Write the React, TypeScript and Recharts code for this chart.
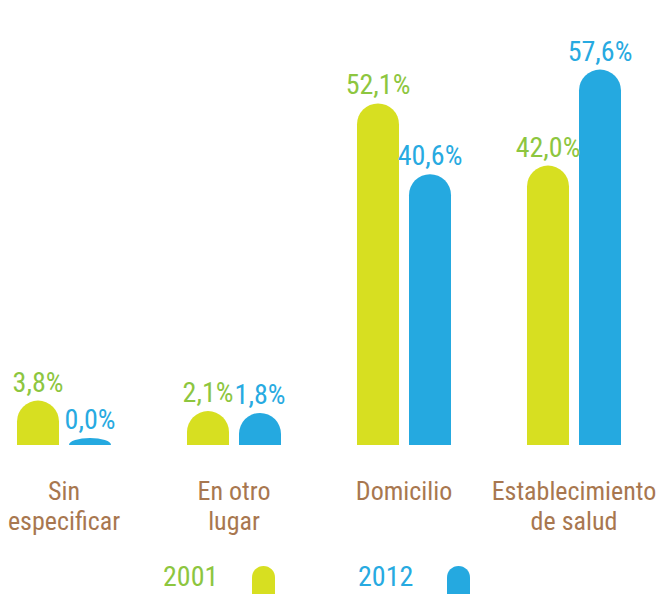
import React from 'react';
import { BarChart, Bar, XAxis, YAxis, LabelList, Legend } from 'recharts';

const categories = ['Sin\nespecificar', 'En otro\nlugar', 'Domicilio', 'Establecimiento\nde salud'];
const values2001 = [3.8, 2.1, 52.1, 42.0];
const values2012 = [0.0, 1.8, 40.6, 57.6];
const seriesNames = ['2001', '2012'];

const FONT = "'Liberation Sans Narrow', 'Roboto Condensed', 'DejaVu Sans Condensed', sans-serif";
const barColors = ['#d7df21', '#25a9e0'];
const labelColors = ['#8dc63f', '#27aae1'];
const brown = '#a8774f';

const data = categories.map((name, i) => ({
  name,
  y2001: values2001[i],
  y2012: values2012[i],
}));

// bar with a round cap sitting on top of the value
const DomeBar = (props: any) => {
  const { x, y, width, height, fill, value } = props;
  const r = width / 2;
  const ry = Number(value) === 0 ? 7 : r;
  const base = y + height;
  const d = `M${x},${base} L${x},${y} A${r},${ry} 0 0 1 ${x + width},${y} L${x + width},${base} Z`;
  return <path d={d} fill={fill} />;
};

const makeLabel = (color: string) => (props: any) => {
  const { x, y, width, value } = props;
  const r = width / 2;
  const capTop = Number(value) === 0 ? y - 7 : y - r;
  return (
    <text x={x + width / 2} y={capTop - 9} textAnchor="middle" fill={color} fontSize={28} fontFamily={FONT}>
      {Number(value).toFixed(1).replace('.', ',')}%
    </text>
  );
};

const CategoryTick = ({ x, y, payload }: any) => {
  const lines = String(payload.value).split('\n');
  return (
    <text x={x} y={y} textAnchor="middle" fill={brown} fontSize={26} fontFamily={FONT}>
      {lines.map((l, i) => (
        <tspan key={i} x={x} dy={i === 0 ? 55 : 30}>{l}</tspan>
      ))}
    </text>
  );
};

const LegendContent = () => (
  <div style={{ display: 'flex', alignItems: 'flex-start', paddingLeft: 184, height: 36, fontFamily: FONT }}>
    {seriesNames.map((s, i) => (
      <div key={s} style={{ display: 'flex', alignItems: 'flex-start', marginRight: 83 }}>
        <span style={{ color: labelColors[i], fontSize: 28, lineHeight: '30px', width: 52 }}>{s}</span>
        <span style={{ marginLeft: 37, marginTop: 4, width: 23, height: 30, background: barColors[i], borderRadius: '11.5px 11.5px 0 0' }} />
      </div>
    ))}
  </div>
);

export default function App() {
  return (
    <div style={{ position: 'absolute', left: -21, top: 0, width: 680, height: 594, overflow: 'hidden', background: '#fff' }}>
      <BarChart
        width={680}
        height={594}
        data={data}
        margin={{ top: 45, right: 0, left: 0, bottom: 0 }}
        barCategoryGap={38}
        barGap={10}
      >
        <XAxis dataKey="name" axisLine={false} tickLine={false} tickSize={0} tickMargin={0} interval={0} height={113} tick={<CategoryTick />} />
        <YAxis hide domain={[0, 65]} />
        <Legend verticalAlign="bottom" content={<LegendContent />} wrapperStyle={{ bottom: -4, left: 0, width: 680 }} />
        <Bar dataKey="y2001" name={seriesNames[0]} fill={barColors[0]} barSize={42} shape={<DomeBar />} isAnimationActive={false}>
          <LabelList dataKey="y2001" content={makeLabel(labelColors[0])} />
        </Bar>
        <Bar dataKey="y2012" name={seriesNames[1]} fill={barColors[1]} barSize={42} shape={<DomeBar />} isAnimationActive={false}>
          <LabelList dataKey="y2012" content={makeLabel(labelColors[1])} />
        </Bar>
      </BarChart>
    </div>
  );
}
